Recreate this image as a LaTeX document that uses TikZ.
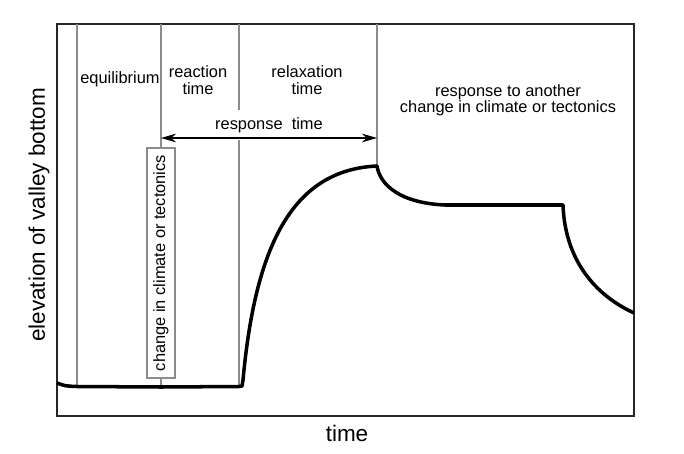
\documentclass[tikz,border=0pt]{standalone}
\usepackage{fontspec}
\setmainfont{Liberation Sans}
\usetikzlibrary{arrows.meta}

\begin{document}
\begin{tikzpicture}[x=0.03cm,y=-0.03cm,>={Stealth[length=4.5mm,width=2.6mm,inset=1.4mm]},
    every node/.style={font=\fontsize{14}{14}\selectfont, align=center},
    divider/.style={draw=black!45, line width=1pt},
    profile/.style={line width=3pt, line join=round},
    axislabel/.style={font=\fontsize{19.2}{20}\selectfont}]
    \useasboundingbox (0,0) rectangle (684,453);

    % frame
    \coordinate (tl) at (57,24);
    \coordinate (br) at (634,416);
    \draw[draw=black!85, line width=1.2pt] (tl) rectangle (br);

    % top ends of the dividers
    \coordinate (t1) at (77,24);
    \coordinate (t2) at (161,24);
    \coordinate (t3) at (239,24);
    \coordinate (t4) at (377,24);

    % points on the valley bottom
    \coordinate (p0) at (57,383);
    \coordinate (p1) at (77,386.5);
    \coordinate (p2) at (161,387);
    \coordinate (p3) at (239,386.5);
    \coordinate (p4) at (242,386);
    \coordinate (rise) at (243,380);
    \coordinate (peak) at (377,166);
    \coordinate (knee) at (445,205);
    \coordinate (drop) at (563,205);
    \coordinate (end) at (634,313);

    \draw[divider] (t1) -- (p1);
    \draw[divider] (t2) -- (p2);
    \draw[divider] (t3) -- (p3);
    \draw[divider] (t4) -- (peak);

    \node (eq) at (120,79) {equilibrium};
    \node (react) at (198,80) {reaction\\time};
    \node (relax) at (307,80) {relaxation\\time};
    \node (other) at (508,100) {response to another\\change in climate or tectonics};

    \node[fill=white, minimum height=0.9cm, inner sep=2pt] (resp) at (269,125) {response\ \ time};
    \coordinate (a1) at (161,138);
    \coordinate (a2) at (377,138);
    \draw[<->, line width=0.9pt] (a1) -- (a2);

    \node[draw=black!45, line width=0.9pt, fill=white, rotate=90, minimum width=6.9cm,
        minimum height=0.84cm, inner sep=0pt] (change) at (161,263) {change in climate or tectonics};

    \draw[profile] (p0) .. controls (65,386) .. (p1) -- (p2) -- (p3) -- (p4) -- (rise)
        .. controls (255,250) and (290,170) .. (peak)
        .. controls (380,185) and (400,203) .. (knee) -- (drop)
        .. controls (565,260) and (595,295) .. (end);

    \node[axislabel, rotate=90] (ylab) at (39,215) {elevation of valley bottom};
    \node[axislabel] (xlab) at (347,433) {time};
\end{tikzpicture}
\end{document}
